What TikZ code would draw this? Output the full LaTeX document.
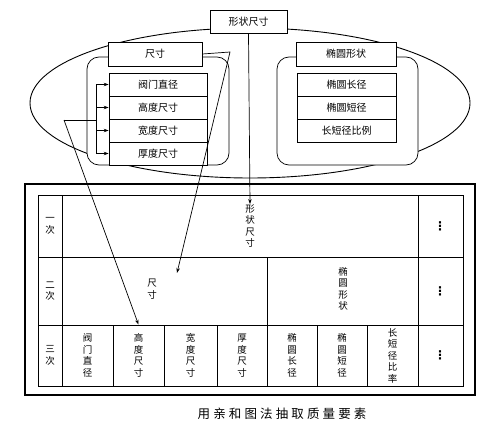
\documentclass[tikz,border=0pt]{standalone}
\usepackage{fontspec}
\setmainfont{Noto Sans CJK SC}
\newfontfamily\capfont[LetterSpace=25]{Noto Sans CJK SC}
\newfontfamily\symfont{DejaVu Sans}
\usetikzlibrary{arrows.meta}
\tikzset{
  box/.style={draw, fill=white, inner sep=0pt, font=\fontsize{10}{12}\selectfont},
  group/.style={draw, fill=white, rounded corners=12},
  cell/.style={align=center, inner sep=0pt, font=\fontsize{9.5}{11.5}\selectfont},
  cellthree/.style={cell, minimum width=50, minimum height=61},
  more/.style={inner sep=0pt, font=\symfont\bfseries\fontsize{12}{14}\selectfont},
  tip/.style={-{Stealth[length=5pt,width=3.5pt]}},
}

\begin{document}
\begin{tikzpicture}[x=1pt, y=-1pt, line width=0.7pt]
\useasboundingbox (0,0) rectangle (500,425);
\draw[line width=0.9pt] (250,103) ellipse [x radius=220, y radius=75];
\draw[group] (87,57) rectangle (229,165);
\draw[group] (277,57) rectangle (418,165);
\node[box, minimum width=77, minimum height=23] (shape) at (248.5,22) {形状尺寸};
\node[box, minimum width=94, minimum height=24] (dim) at (155,54) {尺寸};
\node[box, minimum width=100, minimum height=24] (ell) at (346,54) {椭圆形状};
\foreach \t [count=\i] in {阀门直径,高度尺寸,宽度尺寸,厚度尺寸}
  \node[box, minimum width=98, minimum height=23] (d\i) at (158,{61.5+23*\i}) {\t};
\foreach \t [count=\i] in {椭圆长径,椭圆短径,长短径比例}
  \node[box, minimum width=99, minimum height=23] (e\i) at (346.5,{61.5+23*\i}) {\t};

\coordinate (br) at (96,120);
\draw (d1.west -| br) -- (d4.west -| br);
\foreach \i in {1,...,4}
  \draw[tip] (d\i.west -| br) -- (d\i.west);

\draw[line width=1.2pt] (25,184) rectangle (475,395);
\draw[line width=1pt] (38,195) rectangle (463,386);
\draw (38,257) -- (463,257);
\draw (38,325) -- (463,325);
\draw (62,195) -- (62,386);
\draw (418,195) -- (418,386);
\draw (267,257) -- (267,386);
\foreach \x in {113,164,217,317,367}
  \draw (\x,325) -- (\x,386);

\node[cell] (l1) at (50,226) {一\\次};
\node[cell] (l2) at (50,291) {二\\次};
\node[cell] (l3) at (50,355.5) {三\\次};
\node[cell] (t1) at (250,226) {形\\状\\尺\\寸};
\node[more] (v1) at (440,226) {⋮};
\node[cell] (t2a) at (152,289) {尺\\寸};
\node[cell] (t2b) at (343,289) {椭\\圆\\形\\状};
\node[more] (v2) at (440,291) {⋮};
\node[cellthree] (c1) at (87.5,355.5) {阀\\门\\直\\径};
\node[cellthree] (c2) at (138.5,355.5) {高\\度\\尺\\寸};
\node[cellthree] (c3) at (190.5,355.5) {宽\\度\\尺\\寸};
\node[cellthree] (c4) at (242,355.5) {厚\\度\\尺\\寸};
\node[cellthree] (c5) at (292,355.5) {椭\\圆\\长\\径};
\node[cellthree] (c6) at (342,355.5) {椭\\圆\\短\\径};
\node[cellthree] (c7) at (392.5,355.5) {长\\短\\径\\比\\率};
\node[more] (v3) at (440,355.5) {⋮};

\coordinate (kneeA) at (230,52);
\coordinate (toA) at (177,273);
\coordinate (kneeB) at (64,120);
\draw[tip] (shape.south) -- (t1.north);
\draw[tip] (dim.east) -- (kneeA) -- (toA);
\draw (kneeB) -- (br);
\draw[tip] (kneeB) -- (c2.north);

\node[font=\capfont\fontsize{12.5}{14}\selectfont] (cap) at (282,414) {用亲和图法抽取质量要素};
\end{tikzpicture}
\end{document}
